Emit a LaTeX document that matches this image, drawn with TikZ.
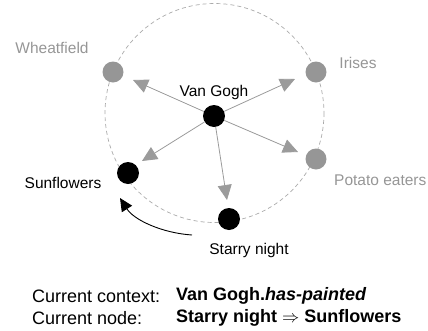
\documentclass[tikz,border=0pt]{standalone}
\usepackage{fontspec}
\setmainfont{Liberation Sans}
\usetikzlibrary{arrows.meta}
\definecolor{lgray}{RGB}{150,150,150}
\definecolor{dgray}{RGB}{170,170,170}
\definecolor{agray}{RGB}{155,155,155}
\begin{document}
\begin{tikzpicture}[x=1bp,y=-1bp,
  every node/.style={font=\fontsize{15.5bp}{18bp}\selectfont, inner sep=0pt},
  bigtext/.style={font=\fontsize{18bp}{21bp}\selectfont},
  blacknode/.style={circle, fill=black, minimum size=22bp},
  graynode/.style={circle, fill=lgray, minimum size=21bp},
  graylabel/.style={text=lgray},
  edge/.style={draw=agray, line width=0.8bp, -{Triangle[length=15bp,width=14bp,fill=agray]}},
  ring/.style={draw=dgray, line width=0.7bp, dash pattern=on 4bp off 3bp},
  move/.style={draw=black, line width=0.9bp, -{Triangle[length=13bp,width=12bp]}}
]
\useasboundingbox (0,0) rectangle (428,331);
\draw[ring] (214.5,113) circle [radius=109.5];

\node[graynode] (wf) at (113,72) {};
\node[graynode] (ir) at (316,72) {};
\node[graynode] (pe) at (316,159) {};
\node[blacknode] (vg) at (214,116) {};
\node[blacknode] (sf) at (128,173) {};
\node[blacknode] (sn) at (229,219) {};

\node[graylabel] (lwf) at (52,48) {Wheatfield};
\node[graylabel] (lir) at (358,63) {Irises};
\node[graylabel, anchor=west] (lpe) at (334,180) {Potato eaters};
\node (lvg) at (214,92) {Van Gogh};
\node (lsf) at (63,183) {Sunflowers};
\node (lsn) at (249,250) {Starry night};

\coordinate (twf) at (133,80);
\coordinate (tir) at (295,79);
\coordinate (tpe) at (298,152);
\coordinate (tsf) at (142,161);
\coordinate (tsn) at (227,200);
\draw[edge] (vg) -- (twf);
\draw[edge] (vg) -- (tir);
\draw[edge] (vg) -- (tpe);
\draw[edge] (vg) -- (tsf);
\draw[edge] (vg) -- (tsn);

\coordinate (ma) at (192,235);
\coordinate (mb) at (120,198);
\draw[move] (ma) .. controls (162,233) and (134,220) .. (mb);

\node[bigtext, anchor=west] (c1) at (32,296) {Current context:};
\node[bigtext, anchor=west] (c2) at (176,296) {\bfseries Van Gogh.\textit{has-painted}};
\node[bigtext, anchor=west] (n1) at (32,318) {Current node:};
\node[bigtext, anchor=west] (n2) at (176,318) {\bfseries Starry night $\Rightarrow$ Sunflowers};
\end{tikzpicture}
\end{document}
